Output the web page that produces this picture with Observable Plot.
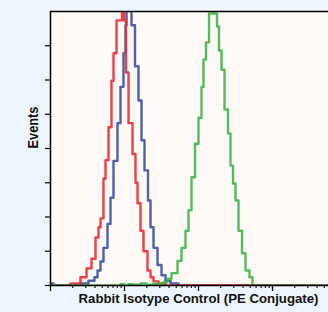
<!DOCTYPE html>
<html><head><meta charset="utf-8">
<script src="https://cdn.jsdelivr.net/npm/d3@7"></script>
<script src="https://cdn.jsdelivr.net/npm/@observablehq/plot@0.6"></script>
<style>
html,body{margin:0;padding:0;background:#eef6fd;overflow:hidden;width:328px;height:312px}
#chart svg{display:block}
</style></head><body><div id="chart"></div>
<script>
// Histogram step data: bin start intensity (log scale) and event counts
const redX = [1, 1.86, 2.54, 3.07, 3.58, 4.06, 4.45, 4.74, 5.2, 5.54, 6.08, 6.67, 7.1, 7.8, 9.25, 9.85, 10.48, 11.33, 12.83, 14.08, 14.99, 16.45, 18.06, 20.46, 22.46, 24.66, 28.81, 35.82, 10000];
const redY = [0, 3, 12, 25, 39, 70, 85, 98, 156, 183, 231, 299, 339, 387, 420, 387, 311, 237, 192, 150, 120, 80, 50, 22, 12, 6, 3, 0, 0];

const blueX = [1, 1.098, 2.54, 3.26, 3.93, 4.32, 4.74, 5.2, 5.89, 6.47, 7.1, 8.04, 8.83, 9.69, 10.32, 10.64, 12.43, 13.87, 15.46, 16.97, 18.63, 20.78, 22.46, 24.66, 27.92, 31.62, 35.82, 41.85, 53.67, 10000];
const blueY = [3, 0, 3, 7, 12, 22, 35, 55, 90, 128, 182, 237, 290, 339, 380, 420, 380, 320, 270, 212, 168, 124, 85, 55, 30, 15, 7, 3, 0, 0];

const greenX = [1, 8.83, 10, 11.33, 12.83, 16.45, 19.83, 23.9, 28.81, 33.65, 38.12, 43.17, 52.03, 58.93, 66.74, 73.28, 80.44, 89.67, 100, 109.8, 116.8, 126.3, 138.7, 177.8, 189.2, 204.6, 224.6, 250.4, 270.6, 292.6, 316.2, 347.1, 387.1, 431.7, 489, 536.7, 10000];
const greenY = [0, 2, 0, 2, 1, 3, 1, 2, 3, 5, 10, 18, 36, 55, 80, 110, 158, 207, 245, 290, 330, 355, 397, 378, 343, 315, 257, 222, 175, 149, 124, 80, 47, 22, 12, 0, 0];

const majorTicks = [1, 10, 100, 1000];
const minorTicks = [2,3,4,5,6,7,8,9,20,30,40,50,60,70,80,90,200,300,400,500,600,700,800,900,2000,3000,4000,5000];
const yTicks = [0, 50, 100, 150, 200, 250, 300, 350];
const xLabel = "Rabbit Isotype Control (PE Conjugate)";
const yLabel = "Events";

const toRows = (xs, ys) => xs.map((x, i) => ({x, y: ys[i]}));
const red = toRows(redX, redY), blue = toRows(blueX, blueY), green = toRows(greenX, greenY);

const font = "'Liberation Sans', Arial, sans-serif";
const lineOpts = (c) => ({x: "x", y: "y", curve: "step-after", stroke: c, strokeWidth: 2.4, strokeOpacity: 0.9, clip: true});

const chart = Plot.plot({
  width: 328, height: 312,
  marginLeft: 50, marginRight: 0, marginTop: 11, marginBottom: 27,
  style: {background: "transparent", fontFamily: font},
  x: {type: "log", domain: [1, 5710]},
  y: {domain: [0, 400]},
  marks: [
    Plot.frame({fill: "#fffaf5", stroke: null}),
    Plot.line(blue, lineOpts("#3b4fa6")),
    Plot.line(red, lineOpts("#ec2a33")),
    Plot.line(green, lineOpts("#3fb54b")),
    Plot.axisX({ticks: majorTicks, tickSize: 6, tickFormat: () => "", label: null, stroke: "#000", strokeWidth: 1.3}),
    Plot.axisX({ticks: minorTicks, tickSize: 3, tickFormat: () => "", label: null, stroke: "#000", strokeWidth: 1.1}),
    Plot.axisY({ticks: yTicks, tickSize: 5, tickFormat: () => "", label: null, stroke: "#000", strokeWidth: 1.2}),
    Plot.ruleX([1], {stroke: "#000", strokeWidth: 1.5}),
    Plot.ruleY([0], {stroke: "#000", strokeWidth: 1.5}),
    Plot.ruleY([400], {stroke: "#000", strokeWidth: 1.5}),
    Plot.text([xLabel], {text: d => d, frameAnchor: "bottom", dx: 9, dy: 17, fontSize: 13.2, fontWeight: "bold", fill: "#111"}),
    Plot.text([yLabel], {text: d => d, frameAnchor: "left", dx: -17, rotate: -90, fontSize: 14, fontWeight: "bold", fill: "#111"})
  ]
});
// condensed look: fit label texts to the widths seen in the reference
d3.select(chart).selectAll("text").each(function() {
  const t = this.textContent;
  if (t === xLabel) d3.select(this).attr("textLength", 240).attr("lengthAdjust", "spacingAndGlyphs");
  if (t === yLabel) d3.select(this).attr("textLength", 42).attr("lengthAdjust", "spacingAndGlyphs");
});
document.getElementById("chart").append(chart);
</script></body></html>
